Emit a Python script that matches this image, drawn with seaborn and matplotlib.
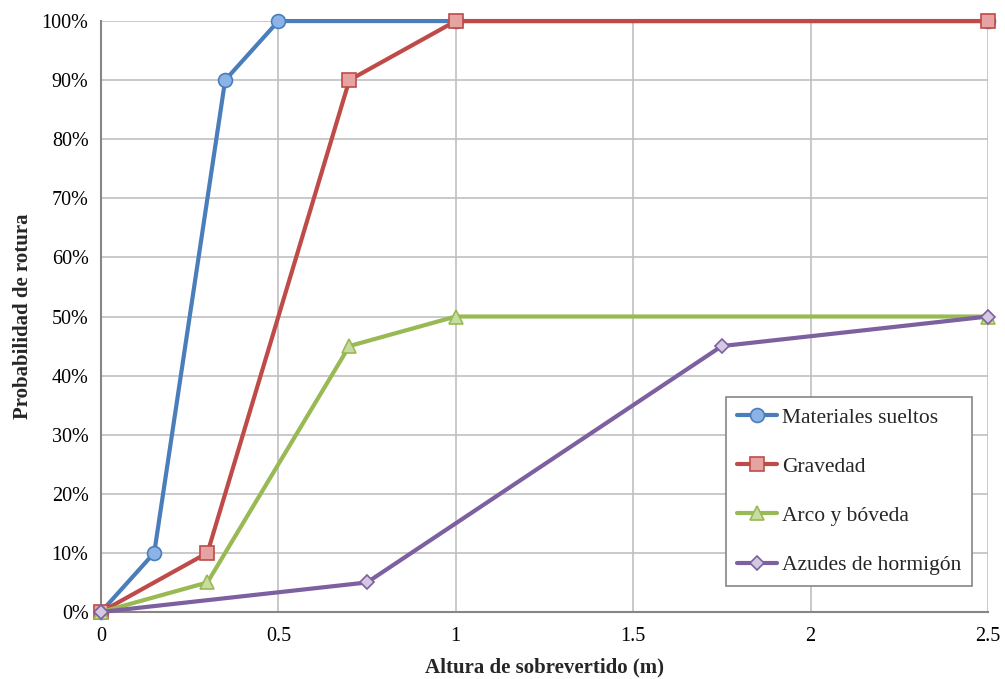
import matplotlib
matplotlib.use("Agg")
import matplotlib.pyplot as plt
import seaborn as sns
import pandas as pd
from matplotlib.ticker import PercentFormatter

# Data
series_names = ["Materiales sueltos", "Gravedad", "Arco y bóveda", "Azudes de hormigón"]
x_materiales = [0, 0.15, 0.35, 0.5, 1, 2.5]
y_materiales = [0, 10, 90, 100, 100, 100]
x_gravedad = [0, 0.3, 0.7, 1, 2.5]
y_gravedad = [0, 10, 90, 100, 100]
x_arco = [0, 0.3, 0.7, 1, 2.5]
y_arco = [0, 5, 45, 50, 50]
x_azudes = [0, 0.75, 1.75, 2.5]
y_azudes = [0, 5, 45, 50]
x_ticks = [0, 0.5, 1, 1.5, 2, 2.5]
x_tick_labels = ["0", "0.5", "1", "1.5", "2", "2.5"]
y_ticks = list(range(0, 101, 10))

sns.set_theme(style="white")
plt.rcParams["font.family"] = ["Liberation Serif", "DejaVu Serif"]

rows = []
for name, xs, ys in zip(series_names,
                        [x_materiales, x_gravedad, x_arco, x_azudes],
                        [y_materiales, y_gravedad, y_arco, y_azudes]):
    for xv, yv in zip(xs, ys):
        rows.append({"serie": name, "x": xv, "y": yv})
df = pd.DataFrame(rows)

styles = {
    "Materiales sueltos": dict(color="#4A7EBB", marker="o", mfc="#8CB3E6", ms=10),
    "Gravedad": dict(color="#BE4B48", marker="s", mfc="#E6A3A2", ms=10),
    "Arco y bóveda": dict(color="#98B954", marker="^", mfc="#C6DCA0", ms=10),
    "Azudes de hormigón": dict(color="#7D60A0", marker="D", mfc="#D4C8E2", ms=7.5),
}

fig = plt.figure(figsize=(10.05, 6.79), dpi=100)
ax = fig.add_axes([0.1005, 0.0987, 0.8825, 0.8703])

for name in series_names:
    st = styles[name]
    sub = df[df["serie"] == name]
    sns.lineplot(data=sub, x="x", y="y", ax=ax, color=st["color"], lw=3,
                 marker=st["marker"], markersize=st["ms"],
                 markerfacecolor=st["mfc"], markeredgecolor=st["color"],
                 markeredgewidth=1.2, label=name, clip_on=False,
                 estimator=None, sort=False, zorder=3)

ax.set_xlim(0, 2.5)
ax.set_ylim(0, 100)
ax.set_xticks(x_ticks)
ax.set_xticklabels(x_tick_labels)
ax.set_yticks(y_ticks)
ax.yaxis.set_major_formatter(PercentFormatter(100, decimals=0))
ax.grid(True, color="#C0C0C0", lw=1.2)
ax.set_axisbelow(True)
for s in ["top", "right"]:
    ax.spines[s].set_visible(False)
for s in ["left", "bottom"]:
    ax.spines[s].set_color("#868686")
    ax.spines[s].set_linewidth(1.5)
ax.tick_params(axis="both", which="major", direction="out", length=5,
               width=1.2, color="#868686", labelsize=14.5, labelcolor="black")
ax.tick_params(axis="x", pad=6)
ax.tick_params(axis="y", pad=4)

ax.set_xlabel("Altura de sobrevertido (m)", fontsize=15, fontweight="bold", labelpad=8)
ax.set_ylabel("Probabilidad de rotura", fontsize=15, fontweight="bold", labelpad=6)

leg = ax.legend(loc="upper left", bbox_to_anchor=(0.705, 0.364),
                frameon=True, fancybox=False, edgecolor="#868686",
                fontsize=15.5, labelspacing=1.35, handlelength=1.85, handletextpad=0.25,
                borderpad=0.5, borderaxespad=0, framealpha=1)
leg.get_frame().set_linewidth(1.2)

fig.savefig("out.png", dpi=100)
